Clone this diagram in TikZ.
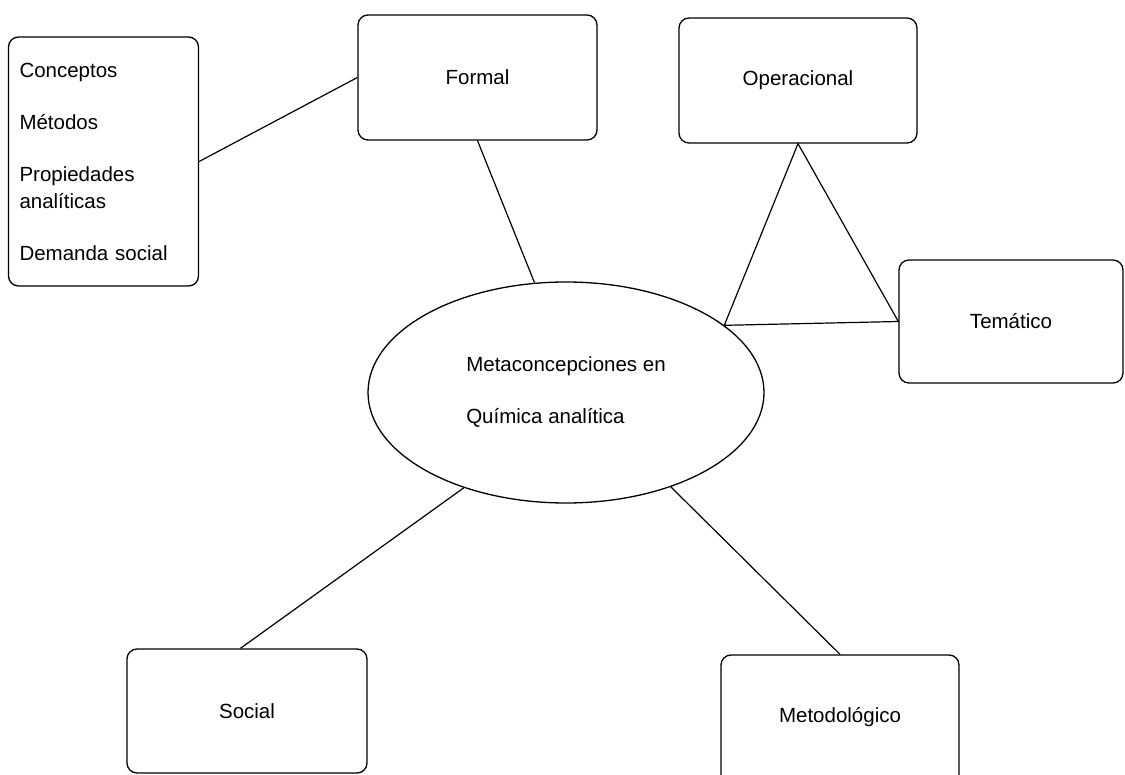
\documentclass[tikz,border=0pt]{standalone}
\usepackage{fontspec}
\setmainfont{Liberation Sans}
\usetikzlibrary{shapes.geometric}

\tikzset{
	caja/.style={draw, line width=0.65pt, rounded corners=5pt, inner sep=0pt, align=center},
	enlace/.style={line width=0.6pt},
}

\begin{document}
\begin{tikzpicture}[x=0.5pt, y=-0.5pt, font=\fontsize{10.25}{13.5}\selectfont]

% frame %{{{2

	\useasboundingbox (0,0) rectangle (1125,775);
	\clip (0,0) rectangle (1125,775);

% boxes %{{{2

	\node[caja, minimum width=95pt, minimum height=124.5pt, text width=84pt, inner xsep=5.5pt, align=left]
		(lista) at (103.5,161.5) {Conceptos\\[12.5pt]Métodos\\[12.5pt]Propiedades\\analíticas\\[12.5pt]Demanda social};

	\node[caja, minimum width=119.5pt, minimum height=62.5pt] (formal) at (477.5,77.5) {Formal};
	\node[caja, minimum width=119pt, minimum height=62.5pt] (operacional) at (798,80.5) {Operacional};
	\node[caja, minimum width=112pt, minimum height=61.5pt] (tematico) at (1011,321.5) {Temático};
	\node[caja, minimum width=120pt, minimum height=62pt] (social) at (247,711) {Social};
	\node[caja, minimum width=119pt, minimum height=70pt,
		label={[yshift=4pt]center:Metodológico}] (metodologico) at (840,725) {};

% ellipse %{{{2

	\node[draw, ellipse, line width=0.65pt, minimum width=198pt, minimum height=110.5pt, inner sep=0pt, align=left]
		(meta) at (566,392.5) {Metaconcepciones en\\[12.5pt]Química analítica};

% links %{{{2

	\draw[enlace] (lista.east) -- (formal.west);
	\draw[enlace] (formal.south) -- (meta.106);
	\draw[enlace] (meta.23) -- (operacional.south) -- (tematico.west) -- cycle;
	\draw[enlace] (meta.223) -- (social.96);
	\draw[enlace] (meta.318) -- (metodologico.north);

% closing %{{{2

\end{tikzpicture}
\end{document}
